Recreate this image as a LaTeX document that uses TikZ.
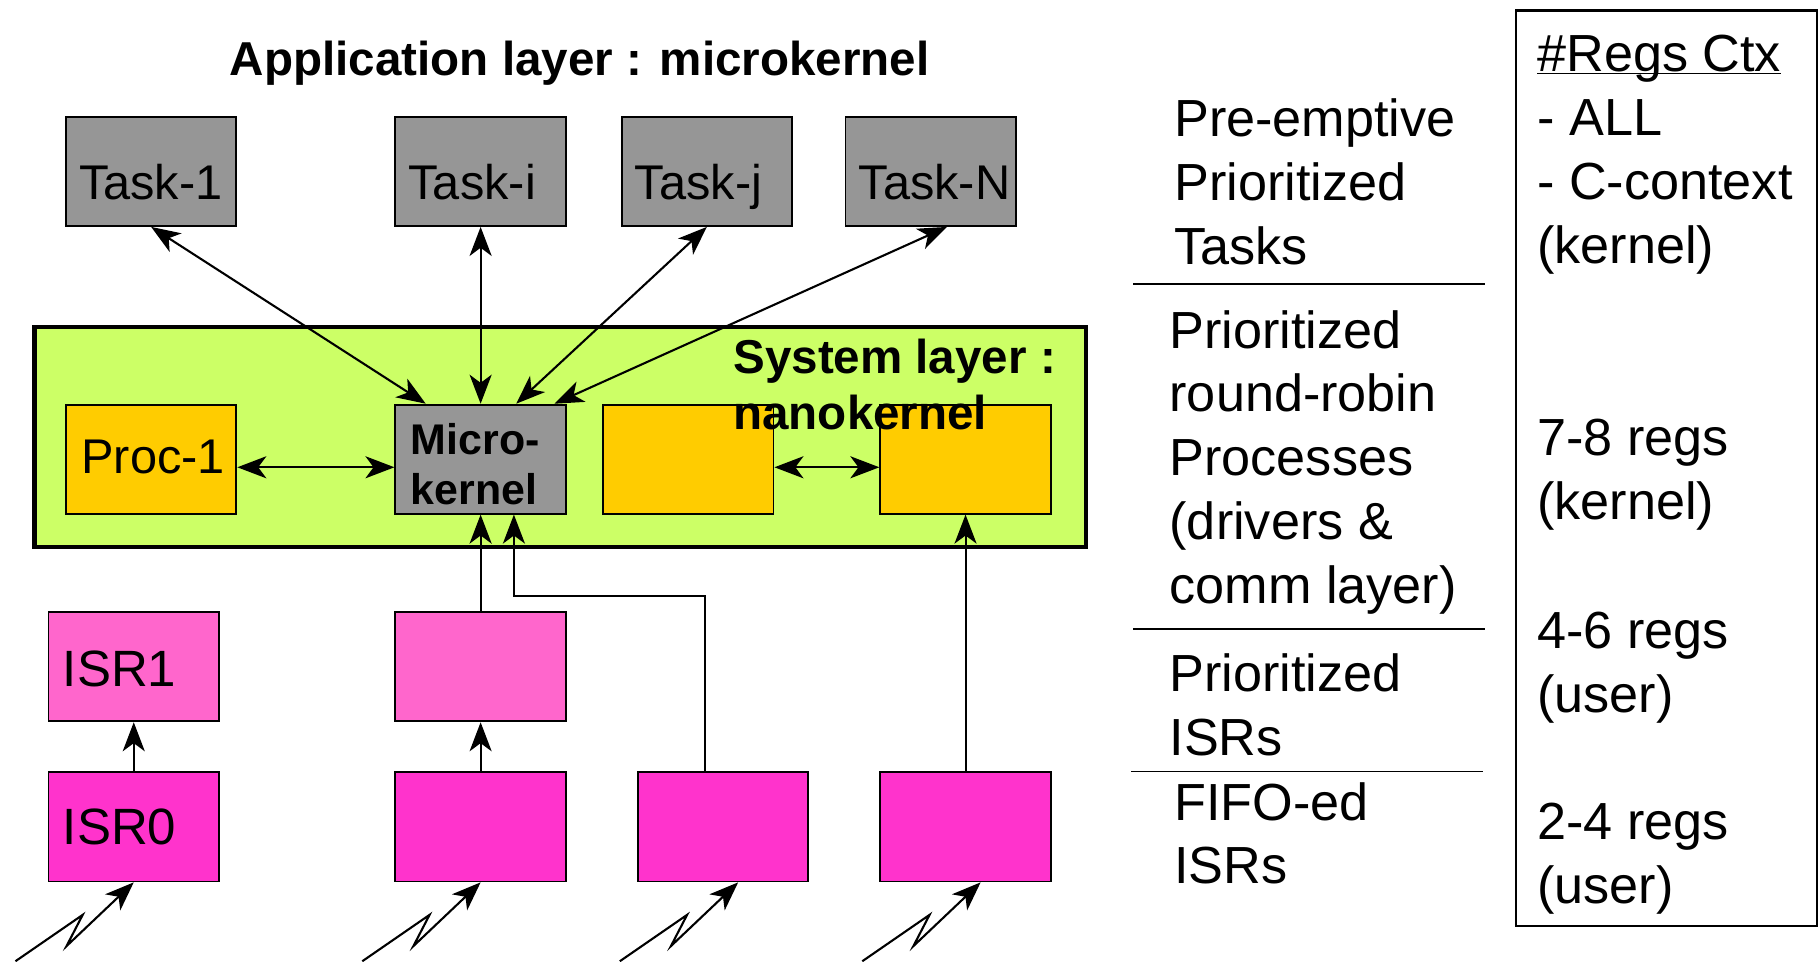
\documentclass[tikz,border=0pt]{standalone}
\usepackage{fontspec}
\setmainfont{Liberation Sans}
\usetikzlibrary{arrows.meta,calc}
\newcommand{\mylines}[1]{\begin{tabular}[t]{@{}l@{}}#1\end{tabular}}
\definecolor{boxgray}{RGB}{150,150,150}
\definecolor{sysgreen}{RGB}{204,255,102}
\definecolor{procorange}{RGB}{255,204,0}
\definecolor{isrpink}{RGB}{255,102,204}
\definecolor{isrmag}{RGB}{255,51,204}
\tikzset{
  box/.style={draw=black, line width=1.6pt, minimum width=147pt, minimum height=94pt, anchor=north west, inner sep=0pt},
  lbl/.style={anchor=base west, inner sep=0pt, font=\fontsize{42}{48}\selectfont},
  rt/.style={anchor=base west, inner sep=0pt, font=\fontsize{45}{55}\selectfont},
  tip/.tip={Stealth[length=25pt,width=19pt,inset=7pt]},
  dbl/.style={tip-tip, line width=1.8pt},
  one/.style={-tip, line width=1.8pt},
  sep/.style={line width=1.6pt},
}
\begin{document}
\begin{tikzpicture}[x=1pt,y=-1pt]
\useasboundingbox (0,0) rectangle (1568,829);
% title
\node[anchor=base west, inner sep=0pt, font=\bfseries\fontsize{41}{48}\selectfont] (title) at (198,65) {Application layer : microkernel};
% tasks
\node[box, fill=boxgray] (t1) at (56,100) {};
\node[box, fill=boxgray] (t2) at (340,100) {};
\node[box, fill=boxgray] (t3) at (535,100) {};
\node[box, fill=boxgray] (t4) at (728,100) {};
\node[lbl] (t1l) at (68,172) {Task-1};
\node[lbl] (t2l) at (352,172) {Task-i};
\node[lbl] (t3l) at (547,172) {Task-j};
\node[lbl] (t4l) at (740,172) {Task-N};
% system layer
\node[draw=black, line width=4pt, fill=sysgreen, minimum width=906.5pt, minimum height=189.5pt, anchor=north west, inner sep=0pt] (sys) at (27.5,280) {};
\node[box, fill=procorange] (p1) at (56,348) {};
\node[box, fill=boxgray] (mk) at (340,348) {};
\node[box, fill=procorange] (p3) at (519,348) {};
\node[box, fill=procorange] (p4) at (758,348) {};
\node[lbl] (p1l) at (70,408) {Proc-1};
\node[anchor=base west, inner sep=0pt, font=\bfseries\fontsize{37}{43}\selectfont] (mkl) at (354,392) {\mylines{Micro-\\kernel}};
\node[anchor=base west, inner sep=0pt, font=\bfseries\fontsize{41}{48}\selectfont] (sysl) at (632,322) {\mylines{System layer :\\nanokernel}};
% ISRs
\node[box, fill=isrpink] (i1) at (41,527) {};
\node[box, fill=isrpink] (i2) at (340,527) {};
\node[box, fill=isrmag] (f0) at (41,665) {};
\node[box, fill=isrmag] (f1) at (340,665) {};
\node[box, fill=isrmag] (f2) at (549,665) {};
\node[box, fill=isrmag] (f3) at (758,665) {};
\node[lbl, font=\fontsize{44}{50}\selectfont] (i1l) at (54,592) {ISR1};
\node[lbl, font=\fontsize{44}{50}\selectfont] (f0l) at (54,728) {ISR0};
% arrows task <-> microkernel
\draw[dbl] (t1.south) -- ([xshift=27pt]mk.north west);
\draw[dbl] (t2.south) -- (mk.north);
\draw[dbl] (t3.south) -- ([xshift=105pt]mk.north west);
\draw[dbl] ([xshift=14pt]t4.south) -- ([xshift=138pt]mk.north west);
% process arrows
\draw[dbl] ([yshift=-7pt]p1.east) -- ([yshift=-7pt]mk.west);
\draw[dbl] ([yshift=-7pt]p3.east) -- ([yshift=-7pt]p4.west);
% up arrows
\draw[one] (i2.north) -- (mk.south);
\draw[one] ([xshift=59pt]f2.north west) |- ([xshift=103pt,yshift=-70pt]mk.south west) -- ([xshift=103pt]mk.south west);
\draw[one] (f3.north) -- (p4.south);
\draw[one] (f0.north) -- (i1.south);
\draw[one] (f1.north) -- (i2.south);
% lightning interrupts
\coordinate (z0) at (f0.south);
\coordinate (z1) at (f1.south);
\coordinate (z2) at ([xshift=13pt]f2.south);
\coordinate (z3) at ([xshift=13pt]f3.south);
\foreach \z in {z0,z1,z2,z3}{
  \draw[one] ($(\z)+(-102,68)$) -- ++(58,-40) -- ++(-14,27) -- (\z);
}
% right side
\node[rt] (b1) at (1012,118) {\mylines{Pre-emptive\\Prioritized\\Tasks}};
\node[rt] (b2) at (1008,300) {\mylines{Prioritized\\round-robin\\Processes\\(drivers \&\\comm layer)}};
\node[rt] (b3) at (1008,596) {\mylines{Prioritized\\ISRs}};
\node[rt] (b4) at (1012,707) {\mylines{FIFO-ed\\ISRs}};
\draw[sep] (977,245) -- (1280,245);
\draw[sep] (977,542) -- (1280,542);
\draw[sep] (975,665) -- (1278,665);
\node[draw=black, line width=2pt, minimum width=259pt, minimum height=789pt, anchor=north west, inner sep=0pt] (regs) at (1306,8) {};
\node[rt] (r1) at (1325,62) {\mylines{\underline{\smash{\#Regs Ctx}}\\- ALL\\- C-context\\(kernel)}};
\node[rt] (r2) at (1325,393) {\mylines{7-8 regs\\(kernel)}};
\node[rt] (r3) at (1325,559) {\mylines{4-6 regs\\(user)}};
\node[rt] (r4) at (1325,724) {\mylines{2-4 regs\\(user)}};
\end{tikzpicture}
\end{document}
